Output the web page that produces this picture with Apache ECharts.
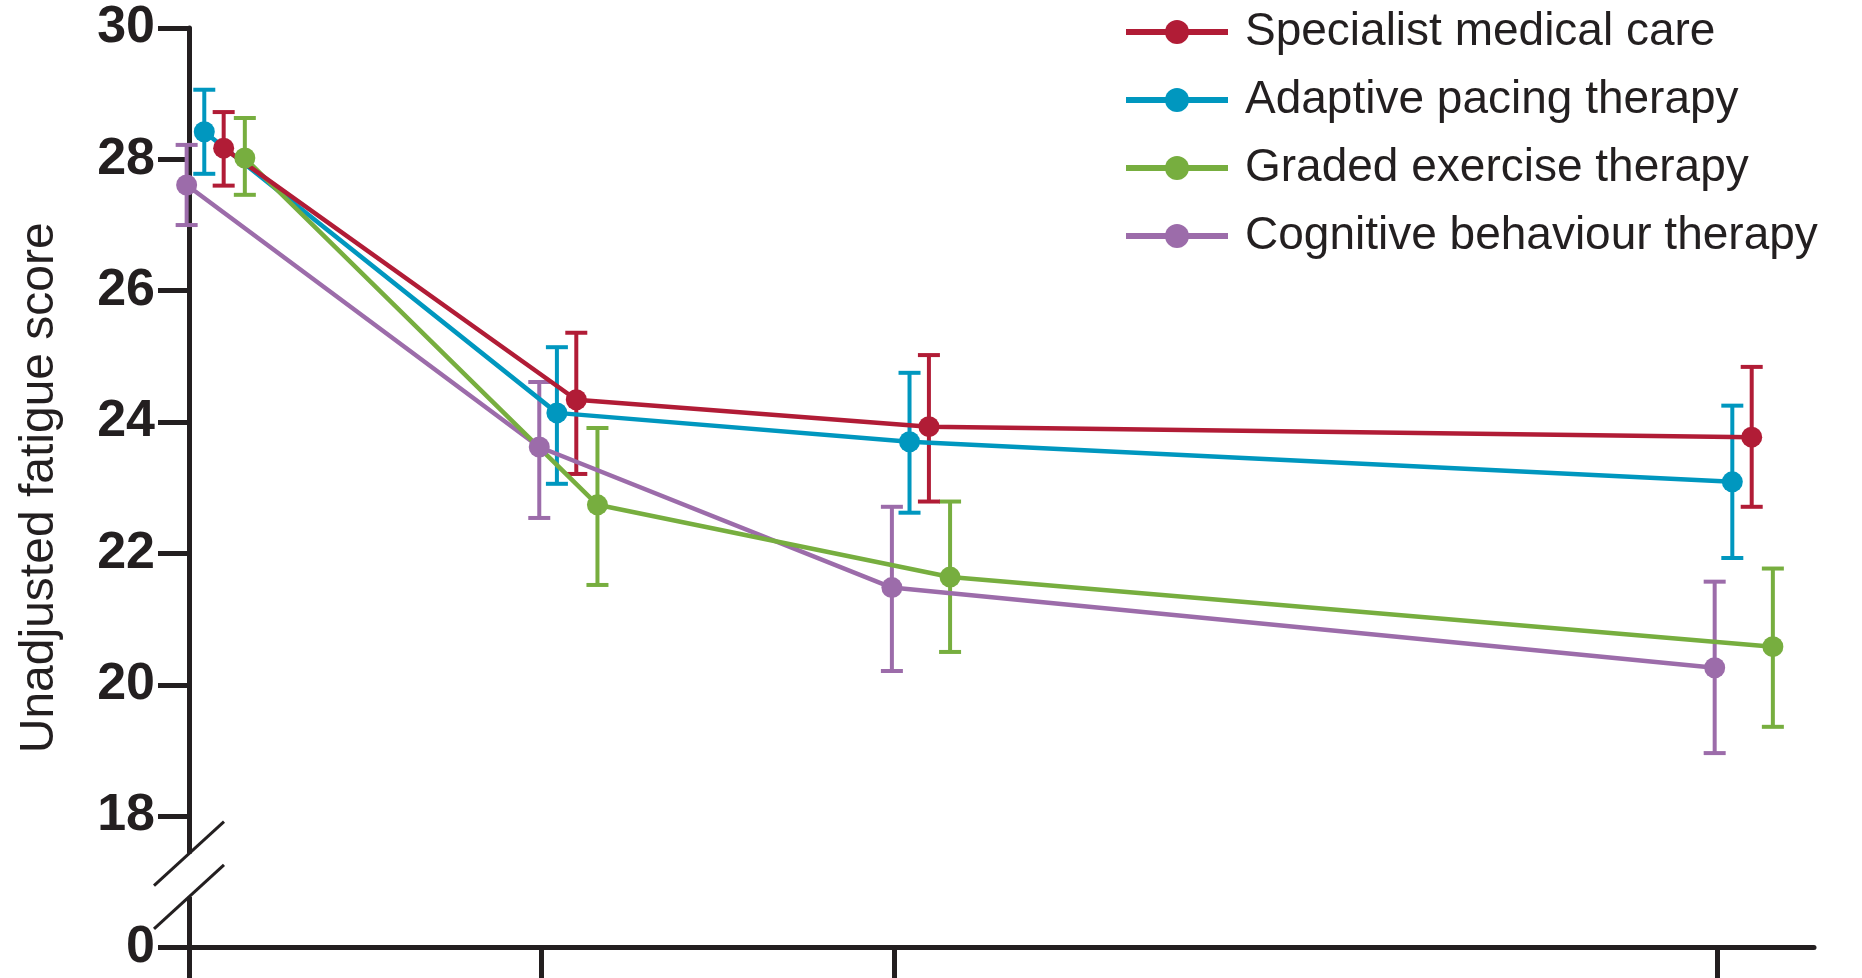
<!DOCTYPE html>
<html>
<head>
<meta charset="utf-8">
<title>Unadjusted fatigue score</title>
<script src="https://cdn.jsdelivr.net/npm/echarts@6/dist/echarts.min.js"></script>
<style>
    html, body { margin: 0; padding: 0; background: #fff; }
    #chart { width: 1862px; height: 978px; }
</style>
</head>
<body>
<div id="chart"></div>
<script>
// Assessment times (weeks)
const weeks = [0, 12, 24, 52];

// Groups, in legend order
const groups = ['Specialist medical care', 'Adaptive pacing therapy', 'Graded exercise therapy', 'Cognitive behaviour therapy'];

// Mean score and error bar limits per group
const smcMean = [28.17, 24.34, 23.93, 23.77];
const smcLow = [27.60, 23.21, 22.79, 22.71];
const smcHigh = [28.72, 25.36, 25.02, 24.84];

const aptMean = [28.42, 24.14, 23.70, 23.09];
const aptLow = [27.78, 23.06, 22.62, 21.93];
const aptHigh = [29.06, 25.14, 24.75, 24.25];

const getMean = [28.02, 22.74, 21.64, 20.58];
const getLow = [27.46, 21.52, 20.50, 19.36];
const getHigh = [28.63, 23.91, 22.79, 21.77];

const cbtMean = [27.61, 23.62, 21.48, 20.26];
const cbtLow = [27.00, 22.54, 20.21, 18.96];
const cbtHigh = [28.22, 24.61, 22.71, 21.57];

// Y ticks; the lowest tick stands for 0 below the axis break
const yTicks = [16, 18, 20, 22, 24, 26, 28, 30];

const INK = '#231f20';
const LABEL_FONT = "'Liberation Sans', Arial, sans-serif";

// group colours and horizontal dodge (weeks) so bars do not overlap
const styles = [
    { color: '#b11c36', dodge: 1.18 },
    { color: '#0097bf', dodge: 0.52 },
    { color: '#77ae3f', dodge: 1.9 },
    { color: '#9c6caa', dodge: -0.08 }
];
const means = [smcMean, aptMean, getMean, cbtMean];
const lows = [smcLow, aptLow, getLow, cbtLow];
const highs = [smcHigh, aptHigh, getHigh, cbtHigh];

const chart = echarts.init(document.getElementById('chart'));

function lineSeries(i) {
    return {
        name: groups[i],
        type: 'line',
        data: weeks.map((w, k) => [w + styles[i].dodge, means[i][k]]),
        symbol: 'circle',
        symbolSize: 21,
        color: styles[i].color,
        lineStyle: { width: 4.5, color: styles[i].color },
        clip: false,
        z: 3
    };
}

function errorSeries(i) {
    const color = styles[i].color;
    return {
        name: groups[i] + ' range',
        type: 'custom',
        data: weeks.map((w, k) => [w + styles[i].dodge, lows[i][k], highs[i][k]]),
        encode: { x: 0, y: [1, 2] },
        clip: false,
        silent: true,
        z: 2,
        renderItem: function (params, api) {
            const x = api.value(0);
            const lo = api.coord([x, api.value(1)]);
            const hi = api.coord([x, api.value(2)]);
            const half = 11;
            const st = { stroke: color, lineWidth: 4 };
            return {
                type: 'group',
                children: [
                    { type: 'line', shape: { x1: lo[0], y1: lo[1], x2: hi[0], y2: hi[1] }, style: st },
                    { type: 'line', shape: { x1: lo[0] - half, y1: lo[1], x2: lo[0] + half, y2: lo[1] }, style: st },
                    { type: 'line', shape: { x1: hi[0] - half, y1: hi[1], x2: hi[0] + half, y2: hi[1] }, style: st }
                ]
            };
        }
    };
}

const series = [];
[3, 1, 2, 0].forEach(i => series.push(errorSeries(i)));
[3, 1, 2, 0].forEach(i => series.push(lineSeries(i)));

const option = {
    backgroundColor: '#fff',
    animation: false,
    grid: { left: 189, right: 48, top: 28, bottom: 30.5, outerBoundsMode: 'none', containLabel: false },
    legend: {
        data: groups,
        orient: 'vertical',
        left: 1118,
        top: 2,
        itemWidth: 102,
        itemHeight: 30,
        itemGap: 18,
        textStyle: {
            fontFamily: LABEL_FONT,
            fontSize: 46,
            lineHeight: 50,
            color: INK,
            padding: [0, 0, 0, 12]
        },
        lineStyle: { width: 6 }
    },
    xAxis: {
        type: 'value',
        min: 0,
        max: 55.3,
        axisLine: { show: true, onZero: false, lineStyle: { color: INK, width: 5 } },
        axisTick: { show: true, customValues: weeks, length: 40, lineStyle: { color: INK, width: 5 } },
        axisLabel: { show: false },
        splitLine: { show: false }
    },
    yAxis: {
        type: 'value',
        min: 16,
        max: 30,
        interval: 2,
        name: 'Unadjusted fatigue score',
        nameLocation: 'middle',
        nameRotate: 90,
        nameGap: 125,
        nameTextStyle: { fontFamily: LABEL_FONT, fontSize: 48, color: INK },
        axisLine: { show: true, lineStyle: { color: INK, width: 5 } },
        axisTick: { show: true, length: 31, lineStyle: { color: INK, width: 5 } },
        axisLabel: {
            margin: 34,
            fontFamily: LABEL_FONT,
            fontSize: 52,
            fontWeight: 'bold',
            color: INK,
            formatter: v => (v === yTicks[0] ? '0' : String(v))
        },
        splitLine: { show: false }
    },
    series: series
};
chart.setOption(option);

// Axis break marks between 18 and 0
function drawBreak() {
    const upper = chart.convertToPixel({ gridIndex: 0 }, [0, 17.43]);
    const lower = chart.convertToPixel({ gridIndex: 0 }, [0, 16.77]);
    const dx = 35, dy = 32;
    const slash = (p) => ({
        type: 'line',
        shape: { x1: p[0] - dx, y1: p[1] + dy, x2: p[0] + dx, y2: p[1] - dy },
        style: { stroke: INK, lineWidth: 3 },
        z: 20
    });
    chart.setOption({
        graphic: [
            {
                type: 'rect',
                shape: { x: upper[0] - 6, y: upper[1], width: 12, height: lower[1] - upper[1] },
                style: { fill: '#fff' },
                z: 19
            },
            slash(upper),
            slash(lower)
        ]
    });
}
drawBreak();
</script>
</body>
</html>
